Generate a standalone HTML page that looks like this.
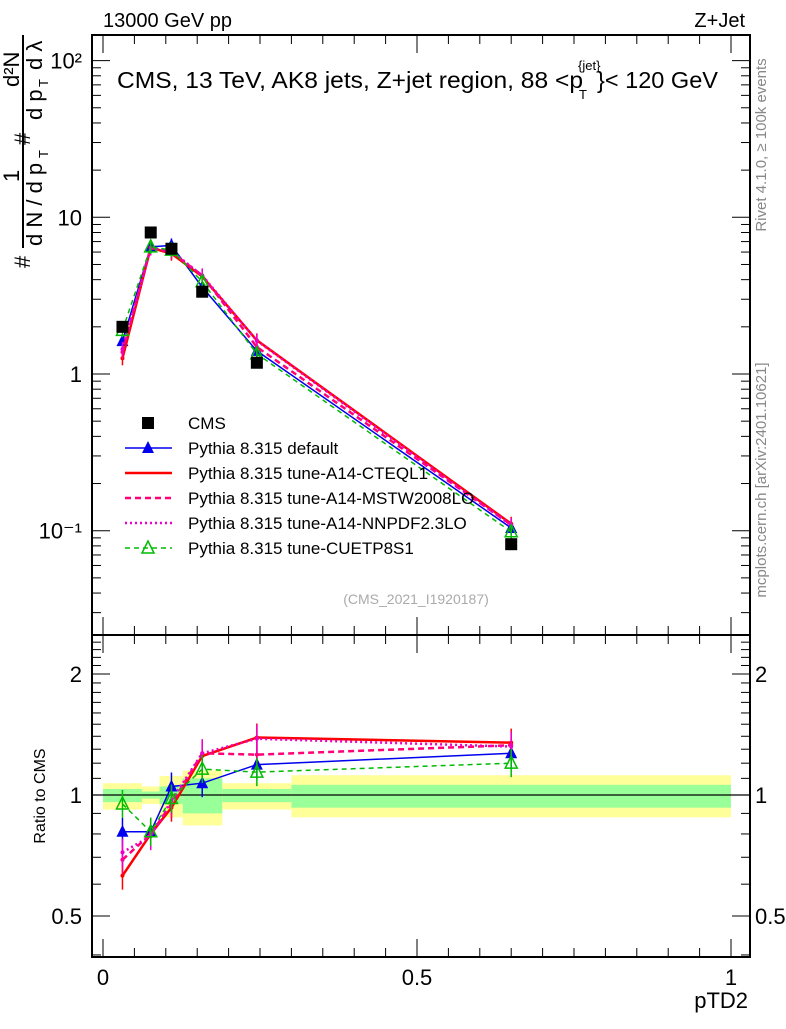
<!DOCTYPE html>
<html><head><meta charset="utf-8"><style>
body{margin:0;background:#fff}
svg text{font-family:"Liberation Sans",sans-serif}
</style></head><body>
<svg id="c" width="786" height="1024" xmlns="http://www.w3.org/2000/svg"></svg>
<script>
const categories=[0.031,0.076,0.109,0.158,0.245,0.65];
const binEdges=[0,0.062,0.09,0.127,0.19,0.3,1.0];
const cmsValues=[2.0,8.0,6.3,3.35,1.18,0.082];
const ratioDefault=[0.81,0.81,1.05,1.07,1.19,1.27];
const ratioCTEQ=[0.63,0.80,0.93,1.25,1.39,1.35];
const ratioMSTW=[0.69,0.80,0.95,1.27,1.26,1.33];
const ratioNNPDF=[0.72,0.79,0.97,1.27,1.38,1.32];
const ratioCUETP=[0.95,0.81,0.98,1.16,1.14,1.20];
const statHi=[1.035,1.02,1.05,1.10,1.035,1.06];
const statLo=[0.96,0.98,0.95,0.90,0.96,0.93];
const totHi=[1.07,1.05,1.115,1.15,1.07,1.12];
const totLo=[0.92,0.95,0.88,0.84,0.92,0.88];
const xTicks=[0,0.5,1];
const yTicksMain=[[100,"10²"],[10,"10"],[1,"1"],[0.1,"10⁻¹"]];
const yTicksRatio=[[2,"2"],[1,"1"],[0.5,"0.5"]];

const S=document.getElementById('c');const NS='http://www.w3.org/2000/svg';
function el(t,a,p){const e=document.createElementNS(NS,t);for(const k in a)e.setAttribute(k,a[k]);(p||S).appendChild(e);return e;}
const L=92,R=750,T=35,M=635,B=957;
const X=v=>103+v*628;
const Y=v=>374-Math.log10(v)*156.7;
const YR=v=>795-Math.log2(v)*121;

for(let i=0;i<6;i++){
 let r=el('rect',{x:X(binEdges[i]),y:YR(totHi[i]),width:X(binEdges[i+1])-X(binEdges[i]),height:YR(totLo[i])-YR(totHi[i]),fill:'#ffff99'});
 
 let g=el('rect',{x:X(binEdges[i]),y:YR(statHi[i]),width:X(binEdges[i+1])-X(binEdges[i]),height:YR(statLo[i])-YR(statHi[i]),fill:'#99ff99'});
 
}
el('line',{x1:L,x2:R,y1:YR(1),y2:YR(1),stroke:'#000','stroke-width':1.2});

for(const [y1,y2] of [[T,M],[M,B]]){
 let f=el('rect',{x:L,y:y1,width:R-L,height:y2-y1,fill:'none',stroke:'#000','stroke-width':2});
 
}
for(let v=0;v<=1.001;v+=0.05){
 const big=Math.abs(v*2-Math.round(v*2))<1e-6, len=big?18:9;
 for(const [yb,yt] of [[M,T],[B,M]]){
  el('line',{x1:X(v),x2:X(v),y1:yb,y2:yb-len,stroke:'#000'});
  el('line',{x1:X(v),x2:X(v),y1:yt,y2:yt+len,stroke:'#000'});
 }
}
xTicks.forEach(v=>{let t=el('text',{x:X(v),y:985,'font-size':22,'text-anchor':'middle'});t.textContent=v;});
for(let d=-2;d<=2;d++)for(let m=1;m<10;m++){const v=m*Math.pow(10,d);const y=Y(v);if(y<T||y>M)continue;const len=m==1?18:9;
 el('line',{x1:L,x2:L+len,y1:y,y2:y,stroke:'#000'});el('line',{x1:R,x2:R-len,y1:y,y2:y,stroke:'#000'});}
yTicksMain.forEach(([v,s])=>{let t=el('text',{x:82,y:Y(v)+8,'font-size':22,'text-anchor':'end'});t.textContent=s;});
for(let v=0.4;v<=2.41;v+=0.1){const y=YR(v);if(y<M||y>B)continue;const big=[0.5,1,2].some(u=>Math.abs(u-v)<1e-6);const len=big?18:9;
 el('line',{x1:L,x2:L+len,y1:y,y2:y,stroke:'#000'});el('line',{x1:R,x2:R-len,y1:y,y2:y,stroke:'#000'});}
yTicksRatio.forEach(([v,s])=>{for(const x of [82,755]){let t=el('text',{x:x,y:YR(v)+8,'font-size':22,'text-anchor':x<100?'end':'start'});t.textContent=s;}});

const series=[
 {n:'default',r:ratioDefault,c:'#0000ee',w:1.5,d:'',m:'tri'},
 {n:'cteql1',r:ratioCTEQ,c:'#ff0000',w:2.5,d:'',m:'dot'},
 {n:'mstw',r:ratioMSTW,c:'#ff0077',w:2.5,d:'6,4',m:'dot'},
 {n:'nnpdf',r:ratioNNPDF,c:'#ee00cc',w:2.5,d:'2,3',m:'dot'},
 {n:'cuetp',r:ratioCUETP,c:'#00bb00',w:1.5,d:'5,4',m:'otri'}];
function marker(s,x,y,n){
 let e;
 if(s.m=='tri')e=el('path',{d:`M${x-6},${y+5}L${x+6},${y+5}L${x},${y-7}Z`,fill:s.c});
 else if(s.m=='otri')e=el('path',{d:`M${x-6},${y+5}L${x+6},${y+5}L${x},${y-7}Z`,fill:'none',stroke:s.c,'stroke-width':1.5});
 else e=el('circle',{cx:x,cy:y,r:2,fill:s.c});
 
}
series.forEach(s=>{
 const mp=categories.map((c,i)=>[X(c),Y(cmsValues[i]*s.r[i])]);
 const rp=categories.map((c,i)=>[X(c),YR(s.r[i])]);
 for(const pts of [mp,rp]){
  let p=el('polyline',{points:pts.map(q=>q.join(',')).join(' '),fill:'none',stroke:s.c,'stroke-width':s.w,'stroke-dasharray':s.d});
  
 }
 rp.forEach(([x,y],i)=>{el('line',{x1:x,x2:x,y1:y-14,y2:y+14,stroke:s.c,'stroke-width':1.5});marker(s,x,y,'ratio-point-'+s.n);});
 mp.forEach(([x,y])=>{el('line',{x1:x,x2:x,y1:y-7,y2:y+7,stroke:s.c,'stroke-width':1.5});marker(s,x,y,'point-'+s.n);});
});
categories.forEach((c,i)=>{let r=el('rect',{x:X(c)-6,y:Y(cmsValues[i])-6,width:12,height:12,fill:'#000'});});

const leg=[['CMS',null],['Pythia 8.315 default',series[0]],['Pythia 8.315 tune-A14-CTEQL1',series[1]],['Pythia 8.315 tune-A14-MSTW2008LO',series[2]],['Pythia 8.315 tune-A14-NNPDF2.3LO',series[3]],['Pythia 8.315 tune-CUETP8S1',series[4]]];
leg.forEach(([txt,s],i)=>{const y=423+i*25;
 if(!s){let r=el('rect',{x:142,y:y-6,width:12,height:12,fill:'#000'});}
 else{let l=el('line',{x1:125,x2:172,y1:y,y2:y,stroke:s.c,'stroke-width':s.w,'stroke-dasharray':s.d});if(s.m!='dot')marker(s,148,y,'legend-marker');}
 let t=el('text',{x:188,y:y+6,'font-size':17});t.textContent=txt;
});

function txt(x,y,s,a,n,p){let t=el('text',Object.assign({x:x,y:y},a),p);t.textContent=s;return t;}
txt(103,27,'13000 GeV pp',{'font-size':20},'beam-label');
txt(745,27,'Z+Jet',{'font-size':20,'text-anchor':'end'},'process-label');
txt(117,88,'CMS, 13 TeV, AK8 jets, Z+jet region, 88 <p',{'font-size':23,textLength:466,lengthAdjust:'spacingAndGlyphs'},'plot-title');
txt(579,99,'T',{'font-size':13},'title-sub');
txt(578,70,'{jet}',{'font-size':13},'title-sup');
txt(597,88,'}< 120 GeV',{'font-size':23,textLength:121,lengthAdjust:'spacingAndGlyphs'},'plot-title-end');
txt(416,604,'(CMS_2021_I1920187)',{'font-size':14,fill:'#aaa','text-anchor':'middle'},'analysis-id');
txt(748,1008,'pTD2',{'font-size':22,'text-anchor':'end'},'x-axis-title');
txt(0,0,'Ratio to CMS',{'font-size':16,'text-anchor':'middle',transform:'translate(45,796) rotate(-90)'},'ratio-y-title');
txt(0,0,'Rivet 4.1.0, ≥ 100k events',{'font-size':15,fill:'#888','text-anchor':'middle',transform:'translate(766,145) rotate(-90)'},'rivet-label');
txt(0,0,'mcplots.cern.ch [arXiv:2401.10621]',{'font-size':15,fill:'#888','text-anchor':'middle',transform:'translate(766,480) rotate(-90)'},'mcplots-label');
const g=el('g',{transform:'translate(0,270) rotate(-90)'});


el('line',{x1:22,x2:235,y1:23,y2:23,stroke:'#000','stroke-width':2},g);
txt(2,30,'#',{'font-size':22},'y-title-hash1',g);
txt(24,42,'d N / d p',{'font-size':22},'y-title-den1',g);
txt(112,48,'T',{'font-size':13},'y-title-sub1',g);
txt(88,19,'1',{'font-size':22},'y-title-num1',g);
txt(125,30,'#',{'font-size':22},'y-title-hash2',g);
txt(150,42,'d p',{'font-size':22},'y-title-den2',g);
txt(183,48,'T',{'font-size':13},'y-title-sub2',g);
txt(200,42,'d λ',{'font-size':22},'y-title-den3',g);
txt(183,19,'d²N',{'font-size':22},'y-title-num2',g);
</script>
</body></html>
